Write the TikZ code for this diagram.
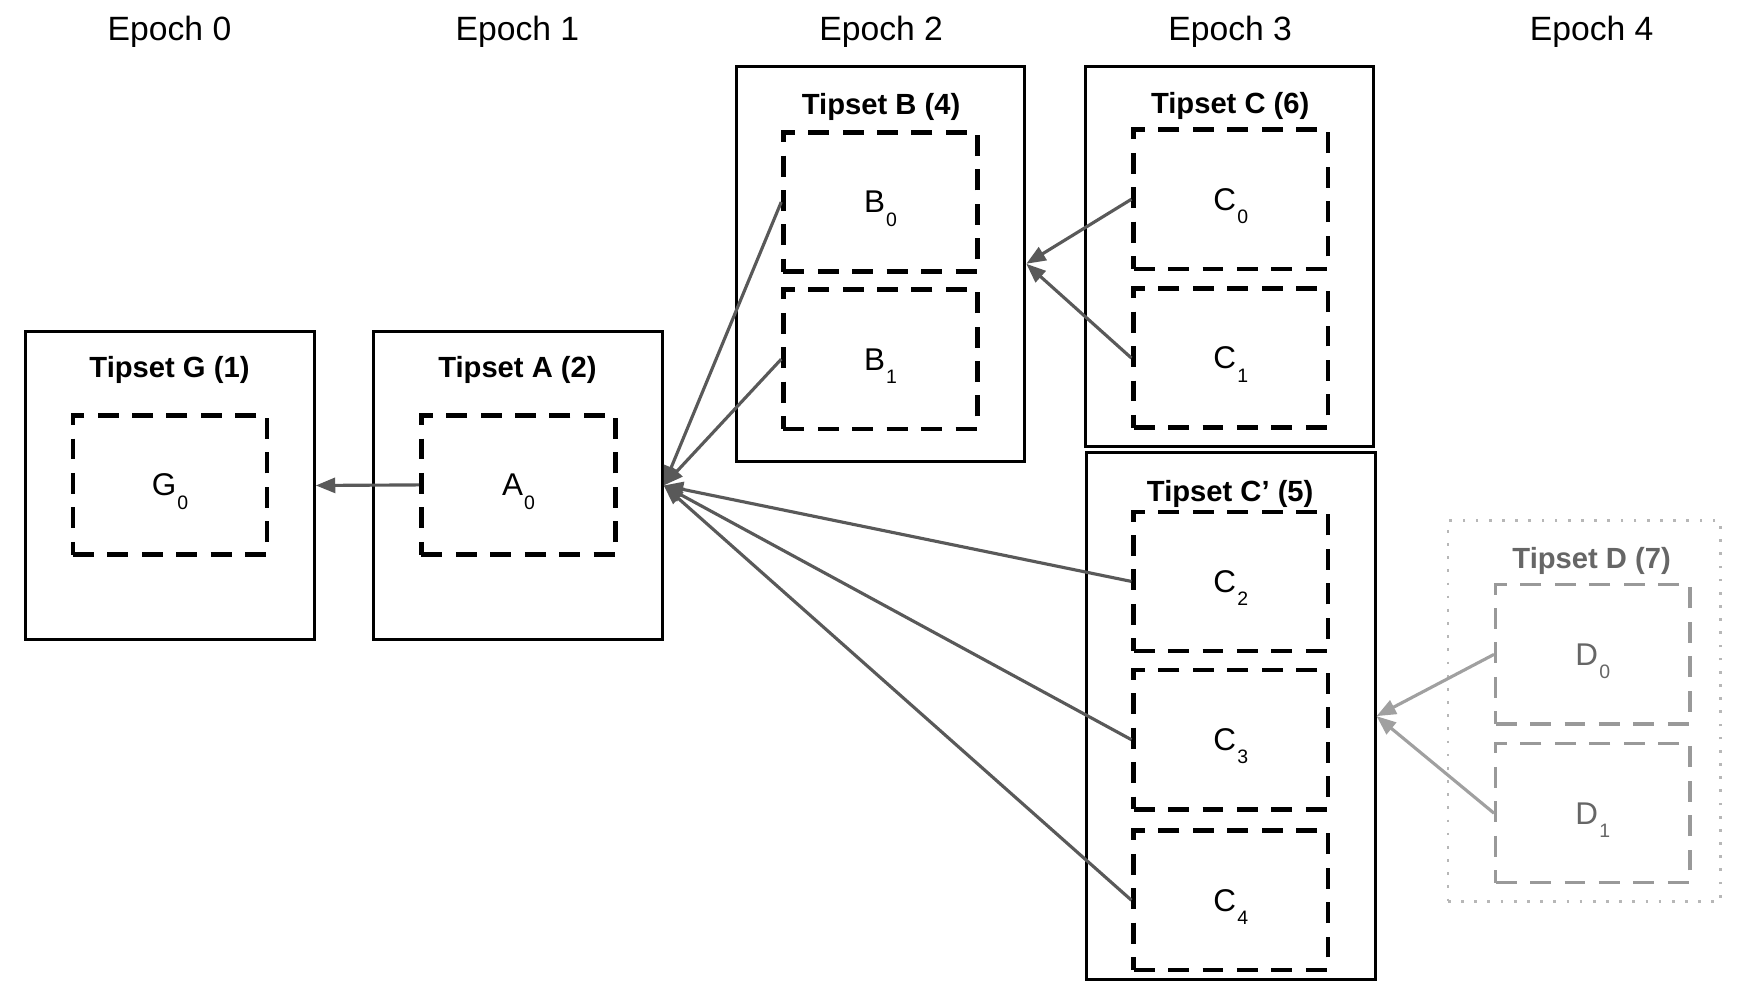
\documentclass[tikz,border=0pt]{standalone}
\usepackage{fontspec}
\setmainfont{Liberation Sans}
\usetikzlibrary{arrows.meta}

\tikzset{every picture/.style={line width=0.75pt}}
\tikzset{
  epochlabel/.style={inner sep=0.75pt, font=\fontsize{22.5}{27}\selectfont},
  tipset/.style={draw, line width=2pt, minimum width=192.75pt, inner sep=0pt},
  tipsetdim/.style={draw={rgb,255:red,183;green,183;blue,183}, line width=1.8pt, dash pattern=on 1.8pt off 7pt, minimum width=182.25pt, inner sep=0pt},
  tiptitle/.style={inner sep=0.75pt, font=\fontsize{19.5}{23}\selectfont\bfseries},
  blockbox/.style={draw, line width=3pt, dash pattern=on 14pt off 9pt, minimum width=129.75pt, minimum height=93pt, inner sep=0pt, font=\fontsize{21}{25}\selectfont},
  blockdim/.style={blockbox, draw={rgb,255:red,153;green,153;blue,153}, line width=2.2pt, text={rgb,255:red,102;green,102;blue,102}},
  link/.style={draw={rgb,255:red,89;green,89;blue,89}, line width=2.1pt, -{Triangle[length=13pt,width=10pt]}},
  linkdim/.style={link, draw={rgb,255:red,160;green,160;blue,160}},
}
\newcommand{\blk}[2]{#1\kern0.8pt\raisebox{-9pt}[0pt][0pt]{\fontsize{13}{15}\selectfont #2}}

\begin{document}
\begin{tikzpicture}[x=0.75pt,y=0.75pt,yscale=-1,xscale=1]
\useasboundingbox (0,0) rectangle (1568,877.5);

% Text Node
\node[epochlabel] (ep0) at (151,28) {Epoch 0};
% Text Node
\node[epochlabel] (ep1) at (461,28) {Epoch 1};
% Text Node
\node[epochlabel] (ep2) at (785,28) {Epoch 2};
% Text Node
\node[epochlabel] (ep3) at (1096,28) {Epoch 3};
% Text Node
\node[epochlabel] (ep4) at (1418,28) {Epoch 4};

%Shape: Rectangle
\node[tipset, minimum height=206.25pt] (tsG) at (151.5,432.5) {};
%Shape: Rectangle
\node[tipset, minimum height=206.25pt] (tsA) at (461.5,432.5) {};
%Shape: Rectangle
\node[tipset, minimum height=264pt] (tsB) at (784.5,235) {};
%Shape: Rectangle
\node[tipset, minimum height=254.25pt] (tsC) at (1095.5,228.5) {};
%Shape: Rectangle
\node[tipset, minimum height=352.5pt] (tsCp) at (1096.5,638) {};
%Shape: Rectangle
\node[tipsetdim, minimum height=254.25pt] (tsD) at (1411.5,633.5) {};

% Text Node
\node[tiptitle] (ttG) at (151,330) {Tipset G (1)};
% Text Node
\node[tiptitle] (ttA) at (461,330) {Tipset A (2)};
% Text Node
\node[tiptitle] (ttB) at (785,95) {Tipset B (4)};
% Text Node
\node[tiptitle] (ttC) at (1096,94) {Tipset C (6)};
% Text Node
\node[tiptitle] (ttCp) at (1096,440) {Tipset C’ (5)};
% Text Node
\node[tiptitle, text={rgb,255:red,102;green,102;blue,102}] (ttD) at (1418,500) {Tipset D (7)};

%Shape: Rectangle
\node[blockbox] (G0) at (151.5,432) {\blk{G}{0}};
\node[blockbox] (A0) at (462,432) {\blk{A}{0}};
\node[blockbox] (B0) at (784.5,180) {\blk{B}{0}};
\node[blockbox] (B1) at (784.5,320) {\blk{B}{1}};
\node[blockbox] (C0) at (1096.5,177.5) {\blk{C}{0}};
\node[blockbox] (C1) at (1096.5,319) {\blk{C}{1}};
\node[blockbox] (C2) at (1096.5,518) {\blk{C}{2}};
\node[blockbox] (C3) at (1096.5,659) {\blk{C}{3}};
\node[blockbox] (C4) at (1096.5,802) {\blk{C}{4}};
\node[blockdim] (D0) at (1419,583) {\blk{D}{0}};
\node[blockdim] (D1) at (1419,724.5) {\blk{D}{1}};

%Straight Lines
\draw[link] (A0.west) -- (tsG.east);
\draw[link] (B0.west) -- (tsA.east);
\draw[link] (B1.west) -- (tsA.east);
\draw[link] (C2.west) -- (tsA.east);
\draw[link] (C3.west) -- (tsA.east);
\draw[link] (C4.west) -- (tsA.east);
\draw[link] (C0.west) -- (tsB.east);
\draw[link] (C1.west) -- (tsB.east);
\draw[linkdim] (D0.west) -- (tsCp.east);
\draw[linkdim] (D1.west) -- (tsCp.east);

\end{tikzpicture}
\end{document}
